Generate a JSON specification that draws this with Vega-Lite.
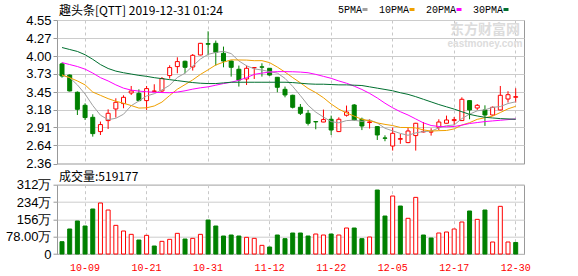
{
"$schema": "https://vega.github.io/schema/vega-lite/v6.json",
"background": "#ffffff",
"padding": {"left": 4, "top": 4, "right": 5, "bottom": 0},
"config": {
  "view": {"stroke": "#999999", "strokeWidth": 1},
  "axis": {"labelOverlap": false},
  "title": {"font": "Noto Sans CJK SC", "fontSize": 12, "fontWeight": "normal", "color": "#000000", "anchor": "start", "frame": "group"}
},
"datasets": {"k": [
{"d":"10-04","o":3.88,"h":3.90,"l":3.67,"c":3.695,"pc":3.80,"v":554000,"5PMA":3.71,"10PMA":3.71,"20PMA":3.90,"30PMA":4.13},
{"d":"10-07","o":3.71,"h":3.72,"l":3.46,"c":3.467,"pc":3.695,"v":1126000,"5PMA":3.67,"10PMA":3.67,"20PMA":3.87,"30PMA":4.10},
{"d":"10-08","o":3.447,"h":3.46,"l":3.10,"c":3.187,"pc":3.467,"v":1486000,"5PMA":3.56,"10PMA":3.62,"20PMA":3.84,"30PMA":4.07},
{"d":"10-09","o":3.248,"h":3.279,"l":3.024,"c":3.061,"pc":3.187,"v":1260000,"5PMA":3.42,"10PMA":3.56,"20PMA":3.80,"30PMA":4.02},
{"d":"10-10","o":3.065,"h":3.111,"l":2.77,"c":2.816,"pc":3.061,"v":2026000,"5PMA":3.245,"10PMA":3.45,"20PMA":3.74,"30PMA":3.95},
{"d":"10-11","o":2.847,"h":3.00,"l":2.795,"c":2.954,"pc":2.816,"v":2296000,"5PMA":3.097,"10PMA":3.40,"20PMA":3.67,"30PMA":3.87},
{"d":"10-14","o":3.015,"h":3.187,"l":2.887,"c":3.126,"pc":2.954,"v":1980000,"5PMA":3.029,"10PMA":3.35,"20PMA":3.62,"30PMA":3.81},
{"d":"10-15","o":3.192,"h":3.355,"l":3.061,"c":3.294,"pc":3.126,"v":1290000,"5PMA":3.05,"10PMA":3.31,"20PMA":3.56,"30PMA":3.77},
{"d":"10-16","o":3.274,"h":3.401,"l":3.203,"c":3.37,"pc":3.294,"v":1035000,"5PMA":3.112,"10PMA":3.28,"20PMA":3.51,"30PMA":3.745},
{"d":"10-17","o":3.436,"h":3.543,"l":3.406,"c":3.467,"pc":3.37,"v":885000,"5PMA":3.242,"10PMA":3.244,"20PMA":3.48,"30PMA":3.725},
{"d":"10-18","o":3.431,"h":3.492,"l":3.31,"c":3.32,"pc":3.467,"v":630000,"5PMA":3.315,"10PMA":3.206,"20PMA":3.465,"30PMA":3.705},
{"d":"10-21","o":3.32,"h":3.543,"l":3.177,"c":3.503,"pc":3.32,"v":840000,"5PMA":3.391,"10PMA":3.21,"20PMA":3.455,"30PMA":3.69},
{"d":"10-22","o":3.46,"h":3.569,"l":3.455,"c":3.467,"pc":3.503,"v":360000,"5PMA":3.425,"10PMA":3.238,"20PMA":3.447,"30PMA":3.67},
{"d":"10-23","o":3.467,"h":3.68,"l":3.45,"c":3.656,"pc":3.467,"v":570000,"5PMA":3.483,"10PMA":3.297,"20PMA":3.443,"30PMA":3.655},
{"d":"10-24","o":3.702,"h":3.859,"l":3.656,"c":3.824,"pc":3.656,"v":660000,"5PMA":3.554,"10PMA":3.398,"20PMA":3.44,"30PMA":3.64},
{"d":"10-25","o":3.839,"h":3.981,"l":3.737,"c":3.915,"pc":3.824,"v":930000,"5PMA":3.673,"10PMA":3.494,"20PMA":3.45,"30PMA":3.625},
{"d":"10-28","o":3.92,"h":3.93,"l":3.737,"c":3.828,"pc":3.915,"v":675000,"5PMA":3.738,"10PMA":3.564,"20PMA":3.47,"30PMA":3.61},
{"d":"10-29","o":3.833,"h":4.031,"l":3.778,"c":4.011,"pc":3.828,"v":705000,"5PMA":3.847,"10PMA":3.636,"20PMA":3.495,"30PMA":3.595},
{"d":"10-30","o":4.016,"h":4.20,"l":4.01,"c":4.194,"pc":4.011,"v":885000,"5PMA":3.954,"10PMA":3.719,"20PMA":3.515,"30PMA":3.585},
{"d":"10-31","o":4.19,"h":4.377,"l":4.01,"c":4.18,"pc":4.194,"v":1530000,"5PMA":4.026,"10PMA":3.79,"20PMA":3.53,"30PMA":3.58},
{"d":"11-01","o":4.194,"h":4.236,"l":3.854,"c":4.057,"pc":4.18,"v":1260000,"5PMA":4.054,"10PMA":3.864,"20PMA":3.555,"30PMA":3.58},
{"d":"11-04","o":4.042,"h":4.144,"l":3.828,"c":3.924,"pc":4.057,"v":810000,"5PMA":4.073,"10PMA":3.906,"20PMA":3.58,"30PMA":3.59},
{"d":"11-05","o":3.924,"h":3.93,"l":3.686,"c":3.828,"pc":3.924,"v":855000,"5PMA":4.037,"10PMA":3.942,"20PMA":3.60,"30PMA":3.60},
{"d":"11-06","o":3.798,"h":3.854,"l":3.534,"c":3.634,"pc":3.828,"v":810000,"5PMA":3.925,"10PMA":3.94,"20PMA":3.63,"30PMA":3.60},
{"d":"11-07","o":3.65,"h":3.854,"l":3.558,"c":3.813,"pc":3.634,"v":750000,"5PMA":3.851,"10PMA":3.938,"20PMA":3.67,"30PMA":3.60},
{"d":"11-08","o":3.82,"h":3.83,"l":3.65,"c":3.824,"pc":3.813,"v":705000,"5PMA":3.805,"10PMA":3.929,"20PMA":3.72,"30PMA":3.60},
{"d":"11-11","o":3.835,"h":3.889,"l":3.686,"c":3.83,"pc":3.824,"v":390000,"5PMA":3.786,"10PMA":3.93,"20PMA":3.74,"30PMA":3.60},
{"d":"11-12","o":3.813,"h":3.815,"l":3.70,"c":3.71,"pc":3.83,"v":315000,"5PMA":3.762,"10PMA":3.899,"20PMA":3.755,"30PMA":3.60},
{"d":"11-13","o":3.676,"h":3.68,"l":3.447,"c":3.523,"pc":3.71,"v":855000,"5PMA":3.74,"10PMA":3.832,"20PMA":3.762,"30PMA":3.60},
{"d":"11-14","o":3.492,"h":3.534,"l":3.37,"c":3.406,"pc":3.523,"v":690000,"5PMA":3.659,"10PMA":3.755,"20PMA":3.762,"30PMA":3.60},
{"d":"11-15","o":3.401,"h":3.41,"l":3.20,"c":3.218,"pc":3.406,"v":945000,"5PMA":3.537,"10PMA":3.671,"20PMA":3.76,"30PMA":3.595},
{"d":"11-18","o":3.218,"h":3.268,"l":3.10,"c":3.126,"pc":3.218,"v":945000,"5PMA":3.397,"10PMA":3.591,"20PMA":3.755,"30PMA":3.585},
{"d":"11-19","o":3.126,"h":3.177,"l":2.94,"c":2.974,"pc":3.126,"v":810000,"5PMA":3.249,"10PMA":3.506,"20PMA":3.745,"30PMA":3.575},
{"d":"11-20","o":3.00,"h":3.00,"l":2.882,"c":2.995,"pc":2.974,"v":900000,"5PMA":3.144,"10PMA":3.442,"20PMA":3.72,"30PMA":3.57},
{"d":"11-21","o":2.993,"h":3.183,"l":2.99,"c":3.03,"pc":2.995,"v":855000,"5PMA":3.069,"10PMA":3.364,"20PMA":3.69,"30PMA":3.57},
{"d":"11-22","o":3.035,"h":3.091,"l":2.795,"c":2.871,"pc":3.03,"v":900000,"5PMA":2.999,"10PMA":3.268,"20PMA":3.66,"30PMA":3.565},
{"d":"11-25","o":2.847,"h":3.065,"l":2.84,"c":3.035,"pc":2.871,"v":855000,"5PMA":2.981,"10PMA":3.189,"20PMA":3.62,"30PMA":3.56},
{"d":"11-26","o":3.096,"h":3.244,"l":3.076,"c":3.146,"pc":3.035,"v":1170000,"5PMA":3.015,"10PMA":3.132,"20PMA":3.585,"30PMA":3.56},
{"d":"11-27","o":3.253,"h":3.268,"l":3.015,"c":3.024,"pc":3.146,"v":1170000,"5PMA":3.021,"10PMA":3.083,"20PMA":3.54,"30PMA":3.555},
{"d":"11-29","o":3.035,"h":3.06,"l":2.87,"c":2.932,"pc":3.024,"v":690000,"5PMA":3.002,"10PMA":3.035,"20PMA":3.49,"30PMA":3.55},
{"d":"12-02","o":2.985,"h":3.035,"l":2.893,"c":2.995,"pc":2.932,"v":765000,"5PMA":3.026,"10PMA":3.013,"20PMA":3.43,"30PMA":3.53},
{"d":"12-03","o":2.923,"h":2.93,"l":2.719,"c":2.795,"pc":2.995,"v":2880000,"5PMA":2.978,"10PMA":2.98,"20PMA":3.36,"30PMA":3.51},
{"d":"12-04","o":2.75,"h":2.79,"l":2.70,"c":2.745,"pc":2.795,"v":1710000,"5PMA":2.898,"10PMA":2.957,"20PMA":3.28,"30PMA":3.49},
{"d":"12-05","o":2.627,"h":2.908,"l":2.557,"c":2.821,"pc":2.745,"v":2610000,"5PMA":2.858,"10PMA":2.939,"20PMA":3.21,"30PMA":3.47},
{"d":"12-06","o":2.73,"h":2.81,"l":2.66,"c":2.74,"pc":2.821,"v":2160000,"5PMA":2.819,"10PMA":2.91,"20PMA":3.15,"30PMA":3.44},
{"d":"12-09","o":2.679,"h":2.908,"l":2.67,"c":2.856,"pc":2.74,"v":1607000,"5PMA":2.791,"10PMA":2.909,"20PMA":3.10,"30PMA":3.415},
{"d":"12-10","o":2.786,"h":2.98,"l":2.557,"c":2.974,"pc":2.856,"v":2550000,"5PMA":2.827,"10PMA":2.903,"20PMA":3.04,"30PMA":3.38},
{"d":"12-11","o":2.841,"h":2.993,"l":2.835,"c":2.85,"pc":2.974,"v":855000,"5PMA":2.848,"10PMA":2.873,"20PMA":2.98,"30PMA":3.34},
{"d":"12-12","o":2.84,"h":2.898,"l":2.786,"c":2.845,"pc":2.85,"v":720000,"5PMA":2.853,"10PMA":2.855,"20PMA":2.94,"30PMA":3.30},
{"d":"12-13","o":2.913,"h":3.035,"l":2.87,"c":2.993,"pc":2.845,"v":945000,"5PMA":2.904,"10PMA":2.861,"20PMA":2.925,"30PMA":3.26},
{"d":"12-16","o":2.974,"h":3.091,"l":2.97,"c":3.024,"pc":2.993,"v":990000,"5PMA":2.937,"10PMA":2.864,"20PMA":2.92,"30PMA":3.225},
{"d":"12-17","o":3.015,"h":3.07,"l":2.948,"c":3.03,"pc":3.024,"v":1126000,"5PMA":2.948,"10PMA":2.888,"20PMA":2.925,"30PMA":3.19},
{"d":"12-18","o":3.015,"h":3.37,"l":3.01,"c":3.34,"pc":3.03,"v":1440000,"5PMA":3.046,"10PMA":2.947,"20PMA":2.945,"30PMA":3.15},
{"d":"12-19","o":3.32,"h":3.325,"l":3.035,"c":3.177,"pc":3.34,"v":1936000,"5PMA":3.113,"10PMA":2.983,"20PMA":2.97,"30PMA":3.11},
{"d":"12-20","o":3.207,"h":3.268,"l":3.177,"c":3.248,"pc":3.177,"v":1560000,"5PMA":3.164,"10PMA":3.034,"20PMA":2.985,"30PMA":3.085},
{"d":"12-23","o":3.177,"h":3.248,"l":2.934,"c":3.10,"pc":3.248,"v":1980000,"5PMA":3.179,"10PMA":3.058,"20PMA":3.0,"30PMA":3.065},
{"d":"12-24","o":3.10,"h":3.23,"l":3.09,"c":3.218,"pc":3.10,"v":540000,"5PMA":3.217,"10PMA":3.083,"20PMA":3.01,"30PMA":3.055},
{"d":"12-26","o":3.177,"h":3.543,"l":3.17,"c":3.401,"pc":3.218,"v":2146000,"5PMA":3.229,"10PMA":3.138,"20PMA":3.02,"30PMA":3.045},
{"d":"12-27","o":3.344,"h":3.463,"l":3.29,"c":3.41,"pc":3.401,"v":540000,"5PMA":3.275,"10PMA":3.194,"20PMA":3.03,"30PMA":3.04},
{"d":"12-30","o":3.371,"h":3.508,"l":3.29,"c":3.38,"pc":3.41,"v":519177,"5PMA":3.302,"10PMA":3.233,"20PMA":3.04,"30PMA":3.035}
]},
"spacing": 20.7,
"bounds": "flush",
"vconcat": [
{
  "width": 467,
  "height": 143.5,
  "title": {"text": "趣头条[QTT] 2019-12-31 01:24", "offset": -3.5, "dx": 2},
  "data": {"name": "k"},
  "encoding": {
    "x": {"field": "d", "type": "ordinal", "sort": "ascending",
      "scale": {"type": "band", "paddingInner": 0.4, "paddingOuter": 0.565, "align": 0.31},
      "axis": {"title": null, "labels": false, "ticks": false, "domain": false, "grid": true, "gridDash": [3, 3], "gridColor": "#c8c8c8", "bandPosition": 0.5,
        "values": ["10-09","10-21","10-31","11-12","11-22","12-05","12-17","12-30"]}}
  },
  "layer": [
    {
      "data": {"values": [{"wm": "东方财富网", "wm2": "eastmoney.com"}]},
      "mark": {"type": "text", "font": "Noto Sans CJK SC", "fontSize": 14, "fontWeight": "bold", "color": "#dcdcdc", "align": "center", "baseline": "middle"},
      "encoding": {"x": {"datum": "12-23"}, "y": {"datum": 4.405}, "text": {"field": "wm"}}
    },
    {
      "data": {"values": [{"wm": "东方财富网", "wm2": "eastmoney.com"}]},
      "mark": {"type": "text", "font": "Liberation Sans", "fontSize": 10, "fontWeight": "bold", "color": "#dcdcdc", "align": "center", "baseline": "middle"},
      "encoding": {"x": {"datum": "12-23"}, "y": {"datum": 4.19}, "text": {"field": "wm2"}}
    },
    {
      "mark": {"type": "rule", "strokeWidth": 1},
      "encoding": {
        "y": {"field": "l", "type": "quantitative",
          "scale": {"domain": [2.36, 4.55], "nice": false, "zero": false},
          "axis": {"title": null, "values": [2.36, 2.64, 2.91, 3.18, 3.45, 3.73, 4.00, 4.27, 4.55], "tickCount": 20, "format": ".2f", "labelOverlap": false,
            "grid": true, "gridColor": "#cccccc", "domain": false, "tickSize": 4, "tickColor": "#999999",
            "labelFont": "Liberation Sans", "labelFontSize": 13, "labelColor": "#000000", "labelPadding": 2}},
        "y2": {"field": "h"},
        "color": {"condition": {"test": "datum.c >= datum.o", "value": "#ff0000"}, "value": "#008000"}
      }
    },
    {
      "mark": {"type": "bar", "size": 4, "strokeWidth": 1},
      "encoding": {
        "y": {"field": "o", "type": "quantitative",
          "axis": {"title": null, "values": [2.36, 2.64, 2.91, 3.18, 3.45, 3.73, 4.00, 4.27, 4.55], "tickCount": 20, "format": ".2f", "labelOverlap": false,
            "grid": true, "gridColor": "#cccccc", "domain": false, "tickSize": 4, "tickColor": "#999999",
            "labelFont": "Liberation Sans", "labelFontSize": 13, "labelColor": "#000000", "labelPadding": 2}},
        "y2": {"field": "c"},
        "fill": {"condition": {"test": "datum.c >= datum.o", "value": "#ffffff"}, "value": "#008000"},
        "stroke": {"condition": {"test": "datum.c >= datum.o", "value": "#ff0000"}, "value": "#008000"}
      }
    },
    {
      "transform": [{"fold": ["5PMA", "10PMA", "20PMA", "30PMA"], "as": ["s", "val"]}],
      "mark": {"type": "line", "strokeWidth": 1},
      "encoding": {
        "y": {"field": "val", "type": "quantitative",
          "axis": {"title": null, "values": [2.36, 2.64, 2.91, 3.18, 3.45, 3.73, 4.00, 4.27, 4.55], "tickCount": 20, "format": ".2f", "labelOverlap": false,
            "grid": true, "gridColor": "#cccccc", "domain": false, "tickSize": 4, "tickColor": "#999999",
            "labelFont": "Liberation Sans", "labelFontSize": 13, "labelColor": "#000000", "labelPadding": 2}},
        "color": {"field": "s", "type": "nominal",
          "scale": {"domain": ["5PMA", "10PMA", "20PMA", "30PMA"], "range": ["#a0a0a0", "#f0a000", "#ff00ff", "#006f2f"]},
          "legend": {"orient": "none", "legendX": 303, "legendY": -15.5, "direction": "horizontal", "title": null,
            "symbolType": "stroke", "symbolSize": 25, "symbolStrokeWidth": 3,
            "labelAlign": "right", "labelOffset": -8, "labelFont": "Liberation Mono", "labelFontSize": 10, "labelColor": "#000000",
            "columnPadding": 4, "padding": 0}}
      }
    }
  ]
},
{
  "width": 467,
  "height": 69.3,
  "title": {"text": "成交量:519177", "offset": -5, "dx": 2},
  "data": {"name": "k"},
  "mark": {"type": "bar", "size": 4, "strokeWidth": 1},
  "encoding": {
    "x": {"field": "d", "type": "ordinal", "sort": "ascending",
      "scale": {"type": "band", "paddingInner": 0.4, "paddingOuter": 0.565, "align": 0.31},
      "axis": {"title": null, "labelAngle": 0, "ticks": false, "domain": false, "grid": true, "gridDash": [3, 3], "gridColor": "#c8c8c8", "bandPosition": 0.5,
        "labelColor": "#ff0000", "labelFont": "Liberation Mono", "labelFontSize": 10, "labelPadding": 8,
        "values": ["10-09","10-21","10-31","11-12","11-22","12-05","12-17","12-30"]}},
    "y": {"field": "v", "type": "quantitative",
      "scale": {"domain": [0, 3120000], "nice": false},
      "axis": {"title": null, "values": [0, 780000, 1560000, 2340000, 3120000], "tickCount": 20, "labelOverlap": false,
        "labelExpr": "datum.value == 0 ? '0' : (datum.value == 780000 ? '78.00万' : format(datum.value / 10000, 'd') + '万')",
        "grid": true, "gridColor": "#cccccc", "domain": false, "tickSize": 4, "tickColor": "#999999",
        "labelFont": "Liberation Sans", "labelFontSize": 13, "labelColor": "#000000", "labelPadding": 2}},
    "fill": {"condition": {"test": "datum.c >= datum.pc", "value": "#ffffff"}, "value": "#008000"},
    "stroke": {"condition": {"test": "datum.c >= datum.pc", "value": "#ff0000"}, "value": "#008000"}
  }
}
]
}
